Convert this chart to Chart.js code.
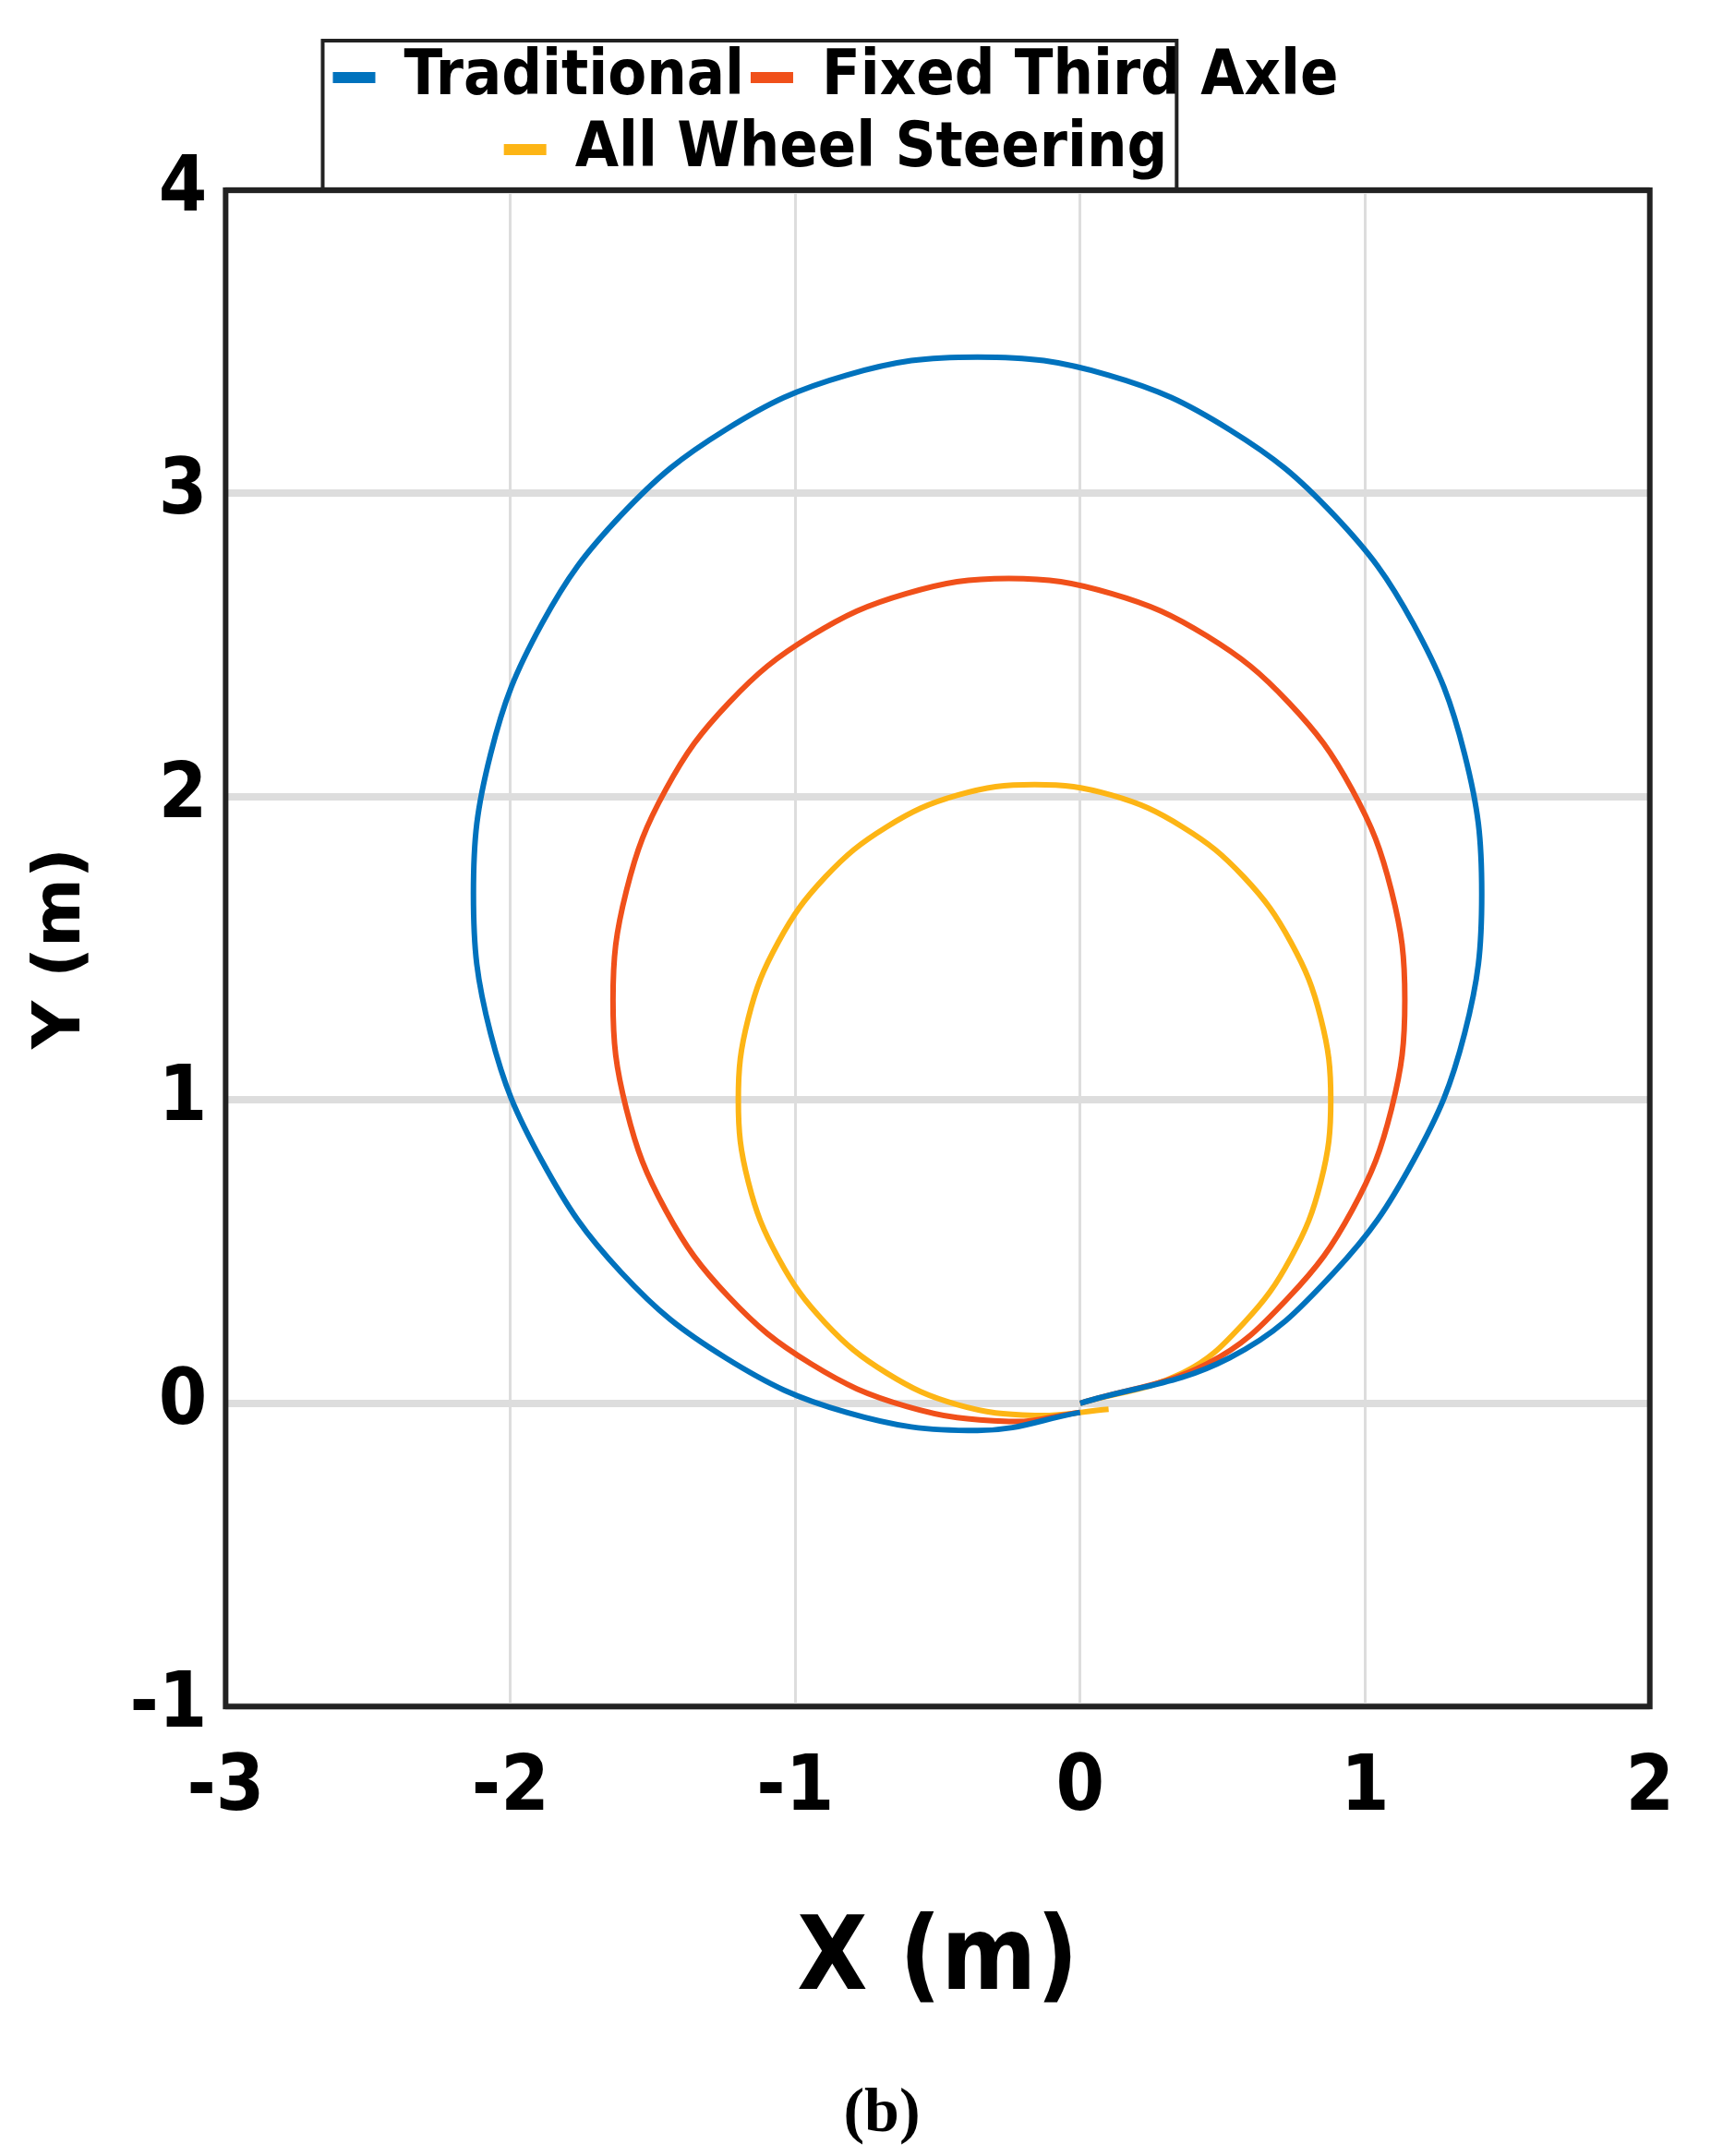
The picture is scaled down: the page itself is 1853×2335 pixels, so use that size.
<!DOCTYPE html>
<html><head><meta charset="utf-8">
<script src="https://cdn.jsdelivr.net/npm/chart.js@4"></script>
<style>html,body{margin:0;background:#fff}#w{width:1853px;height:2335px}</style>
</head><body><div id="w"><canvas id="c"></canvas></div>
<script>
const seriesNames=["Traditional","Fixed Third Axle","All Wheel Steering"];
const colors=["#0072BD","#F0501A","#FDB515"];
const xTicks=[-3,-2,-1,0,1,2];
const yTicks=[-1,0,1,2,3,4];
const traditionalX=[0,0.525,0.89,1.17,1.35,1.41,1.35,1.17,0.89,0.525,0.10,-0.36,-0.82,-1.245,-1.61,-1.89,-2.07,-2.13,-2.07,-1.89,-1.61,-1.245,-0.82,-0.36,0];
const traditionalY=[0,0.15,0.43,0.80,1.22,1.68,2.14,2.57,2.93,3.21,3.39,3.45,3.39,3.21,2.93,2.57,2.14,1.68,1.22,0.80,0.43,0.15,-0.03,-0.09,-0.03];
const fixedX=[0,0.445,0.733,0.954,1.093,1.14,1.093,0.954,0.733,0.445,0.11,-0.25,-0.61,-0.945,-1.233,-1.454,-1.593,-1.64,-1.593,-1.454,-1.233,-0.945,-0.61,-0.25,0];
const fixedY=[0,0.13,0.35,0.635,0.97,1.33,1.69,2.025,2.31,2.53,2.67,2.72,2.67,2.53,2.31,2.025,1.69,1.33,0.97,0.635,0.35,0.13,-0.01,-0.06,-0.03];
const awsX=[0,0.36,0.575,0.74,0.845,0.88,0.845,0.74,0.575,0.36,0.11,-0.16,-0.43,-0.68,-0.895,-1.06,-1.165,-1.2,-1.165,-1.06,-0.895,-0.68,-0.43,-0.16,0.1];
const awsY=[0,0.10,0.265,0.48,0.73,1.0,1.27,1.52,1.735,1.90,2.005,2.04,2.005,1.90,1.735,1.52,1.27,1.0,0.73,0.48,0.265,0.10,-0.005,-0.04,-0.02];
const pts=(xs,ys)=>xs.map((x,i)=>({x,y:ys[i]}));
const data=[pts(traditionalX,traditionalY),pts(fixedX,fixedY),pts(awsX,awsY)];
const F="'DejaVu Sans Condensed','Liberation Sans',sans-serif";
const frame={id:'frame',afterDraw(ch){const c=ch.ctx,a=ch.chartArea,l=ch.legend;c.save();c.strokeStyle='#222';c.lineWidth=6;
c.strokeRect(a.left,a.top,a.right-a.left,a.bottom-a.top);
const hb=l.legendHitBoxes;const x0=hb[0].left-14,x1=hb[hb.length-1].left+hb[hb.length-1].width+10;
c.lineWidth=4;c.strokeRect(x0,l.top+4,x1-x0,a.top-l.top-4);
c.fillStyle='#000';c.font="bold 68px 'Liberation Serif',serif";c.textAlign='center';c.fillText('(b)',955,2290);c.restore();}};
new Chart(document.getElementById('c'),{type:'scatter',
data:{datasets:data.map((d,i)=>({label:seriesNames[i],data:d,showLine:true,borderColor:colors[i],backgroundColor:colors[i],borderWidth:6,pointRadius:0,tension:0.4}))},
options:{responsive:true,maintainAspectRatio:false,animation:false,
layout:{padding:{left:20,right:60,top:40,bottom:140}},
plugins:{legend:{labels:{font:{family:F,size:68,weight:'bold'},color:'#000',boxWidth:40,boxHeight:6,padding:10},maxWidth:2000},tooltip:{enabled:false}},
scales:{x:{min:-3,max:2,afterBuildTicks:s=>{s.ticks=xTicks.map(v=>({value:v}))},
 grid:{color:'#ddd',lineWidth:3,drawTicks:false},border:{display:false},
 ticks:{font:{family:F,size:84,weight:'bold'},color:'#000',padding:40},
 title:{display:true,text:'X (m)',font:{family:F,size:110,weight:'bold'},color:'#000',padding:{top:30}}},
 y:{min:-1,max:4,afterBuildTicks:s=>{s.ticks=yTicks.map(v=>({value:v}))},
 grid:{color:'#ddd',lineWidth:8,drawTicks:false},border:{display:false},
 ticks:{font:{family:F,size:84,weight:'bold'},color:'#000',padding:20},
 title:{display:true,text:'Y (m)',font:{family:"'DejaVu Sans',sans-serif",size:72,weight:'bold'},color:'#000',padding:{bottom:10}}}}},
plugins:[frame]});
</script></body></html>
